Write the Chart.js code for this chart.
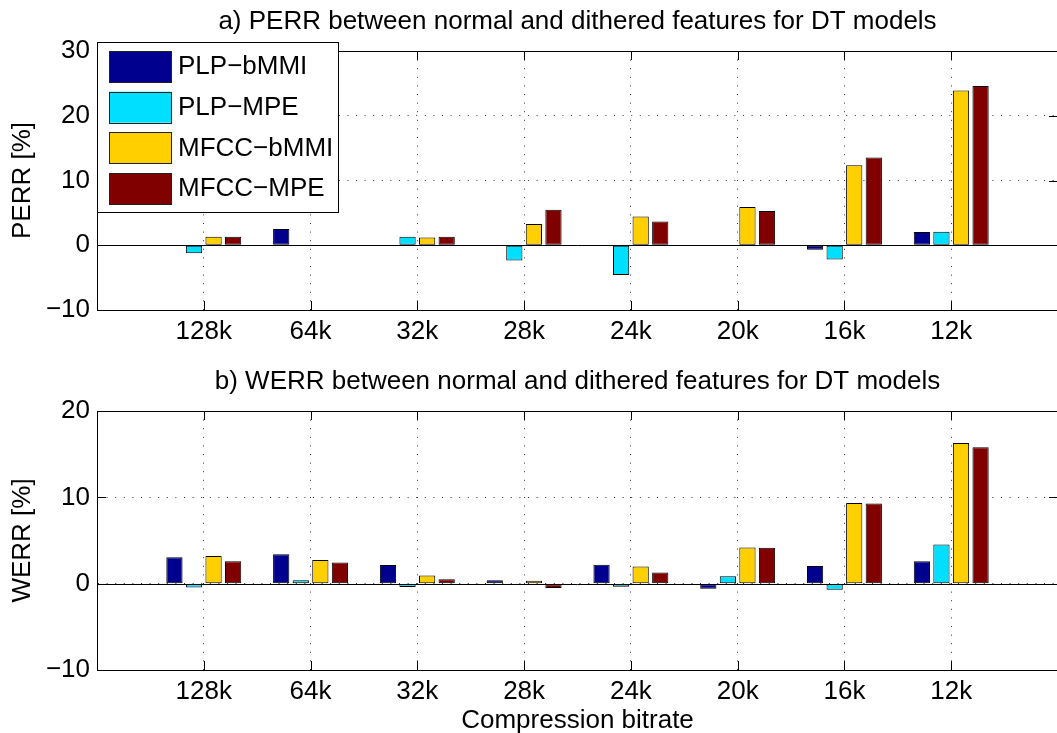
<!DOCTYPE html>
<html>
<head>
<meta charset="utf-8">
<title>PERR / WERR between normal and dithered features</title>
<script src="https://cdn.jsdelivr.net/npm/chart.js@4.4.0/dist/chart.umd.min.js"></script>
<style>
    html, body { margin: 0; padding: 0; background: #fff; overflow: hidden; }
    #wrap { position: relative; width: 1057px; height: 733px; overflow: hidden; }
    #wrap canvas { position: absolute; left: 0; }
    #perrChart { top: 0; }
    #werrChart { top: 365px; }
</style>
</head>
<body>
<div id="wrap">
    <canvas id="perrChart" width="1064" height="365"></canvas>
    <canvas id="werrChart" width="1064" height="380"></canvas>
</div>
<script>
// Data
const categories = ['128k', '64k', '32k', '28k', '24k', '20k', '16k', '12k'];
const seriesNames = ['PLP\u2212bMMI', 'PLP\u2212MPE', 'MFCC\u2212bMMI', 'MFCC\u2212MPE'];
const seriesColors = ['#00008F', '#00DFFF', '#FFCF00', '#800000'];

// a) PERR [%]
const perrPlpBmmi  = [0, 2.5, 0, 0, 0, 0, -0.7, 2.05];
const perrPlpMpe   = [-1.25, 0, 1.3, -2.35, -4.6, 0, -2.2, 2.1];
const perrMfccBmmi = [1.3, 0, 1.2, 3.3, 4.45, 5.9, 12.35, 23.9];
const perrMfccMpe  = [1.3, 0, 1.3, 5.5, 3.65, 5.3, 13.55, 24.6];
const perrTicks = [-10, 0, 10, 20, 30];

// b) WERR [%]
const werrPlpBmmi  = [3.05, 3.4, 2.15, 0.4, 2.2, -0.6, 2.05, 2.6];
const werrPlpMpe   = [-0.45, 0.4, -0.4, -0.05, -0.35, 0.85, -0.7, 4.55];
const werrMfccBmmi = [3.2, 2.75, 0.95, 0.35, 2.0, 4.2, 9.35, 16.3];
const werrMfccMpe  = [2.6, 2.45, 0.5, -0.5, 1.3, 4.15, 9.3, 15.8];
const werrTicks = [-10, 0, 10, 20];

const FONT = "'Liberation Sans', Arial, Helvetica, sans-serif";
const FONT_SIZE = 26;

// empty slot on each side of the categories (like xlim([0 9]) in matlab)
const xLabels = [''].concat(categories, ['']);
function pad(values) {
    return [null].concat(values, [null]);
}

function makeDatasets(seriesList) {
    return seriesList.map((values, i) => ({
        label: seriesNames[i],
        data: pad(values),
        backgroundColor: seriesColors[i],
        borderColor: '#000',
        borderWidth: 1,
        borderSkipped: false,
        categoryPercentage: 0.733,
        barPercentage: 0.83
    }));
}

function minusSign(v) {
    return String(v).replace('-', '\u2212');
}

// Box, zero baseline, inward ticks, title and legend in matlab style
const matlabAxes = {
    id: 'matlabAxes',
    beforeDatasetsDraw(chart) {
        const { ctx, chartArea } = chart;
        const y0 = Math.round(chart.scales.y.getPixelForValue(0)) + 0.5;
        ctx.save();
        ctx.strokeStyle = '#000';
        ctx.lineWidth = 1;
        ctx.beginPath();
        ctx.moveTo(chartArea.left, y0);
        ctx.lineTo(chartArea.right, y0);
        ctx.stroke();
        ctx.restore();
    },
    afterDraw(chart, args, opts) {
        const { ctx, chartArea } = chart;
        const { left, right, top, bottom } = chartArea;
        const xs = chart.scales.x;
        const ys = chart.scales.y;
        const tickLen = 9;

        ctx.save();
        ctx.strokeStyle = '#000';
        ctx.lineWidth = 1;

        // axes box
        ctx.strokeRect(Math.round(left) + 0.5, Math.round(top) + 0.5,
            Math.round(right - left), Math.round(bottom - top));

        // inward tick marks
        ctx.beginPath();
        xs.ticks.forEach((t, i) => {
            if (!xLabels[i]) return;
            const px = Math.round(xs.getPixelForTick(i)) + 0.5;
            ctx.moveTo(px, bottom);
            ctx.lineTo(px, bottom - tickLen);
            ctx.moveTo(px, top);
            ctx.lineTo(px, top + tickLen);
        });
        ys.ticks.forEach(t => {
            const py = Math.round(ys.getPixelForValue(t.value)) + 0.5;
            ctx.moveTo(left, py);
            ctx.lineTo(left + tickLen, py);
            ctx.moveTo(right, py);
            ctx.lineTo(right - tickLen, py);
        });
        ctx.stroke();

        // title, centred on the axes
        ctx.fillStyle = '#000';
        ctx.font = FONT_SIZE + 'px ' + FONT;
        ctx.textAlign = 'center';
        ctx.textBaseline = 'middle';
        ctx.fillText(opts.title, (left + right) / 2, top - 29);

        // legend
        if (opts.legend) {
            const bx = 97.5, by = 42.5, bw = 241, bh = 170;
            ctx.fillStyle = '#fff';
            ctx.fillRect(bx, by, bw, bh);
            ctx.strokeRect(bx, by, bw, bh);
            ctx.textAlign = 'left';
            chart.data.datasets.forEach((ds, i) => {
                const sy = 51 + i * 40.7;
                ctx.fillStyle = ds.backgroundColor;
                ctx.fillRect(109, sy, 62, 31);
                ctx.strokeStyle = '#222';
                ctx.strokeRect(109.5, Math.round(sy) + 0.5, 62, 31);
                ctx.fillStyle = '#000';
                ctx.fillText(ds.label, 178, sy + 16);
            });
        }
        ctx.restore();
    }
};

function makeChart(canvasId, opts) {
    const ctx = document.getElementById(canvasId).getContext('2d');
    return new Chart(ctx, {
        type: 'bar',
        data: {
            labels: xLabels,
            datasets: makeDatasets(opts.series)
        },
        options: {
            responsive: false,
            animation: false,
            devicePixelRatio: 1,
            layout: {
                padding: { top: opts.padTop, left: 0, right: 0, bottom: 0 }
            },
            plugins: {
                legend: { display: false },
                tooltip: { enabled: false },
                matlabAxes: { title: opts.title, legend: opts.legend }
            },
            scales: {
                x: {
                    type: 'category',
                    offset: false,
                    ticks: {
                        autoSkip: false,
                        maxRotation: 0,
                        color: '#000',
                        padding: 6,
                        font: { family: FONT, size: FONT_SIZE }
                    },
                    grid: { color: '#333', drawTicks: false, offset: false },
                    border: { color: '#000', width: 1, dash: [1, 7.6] },
                    title: {
                        display: !!opts.xTitle,
                        text: opts.xTitle || '',
                        color: '#000',
                        font: { family: FONT, size: FONT_SIZE },
                        padding: { top: 0, bottom: 9 }
                    },
                    afterFit: function(scale) {
                        scale.height = opts.xHeight;
                    }
                },
                y: {
                    min: opts.yTicks[0],
                    max: opts.yTicks[opts.yTicks.length - 1],
                    afterBuildTicks: function(scale) {
                        scale.ticks = opts.yTicks.map(v => ({ value: v }));
                    },
                    ticks: {
                        color: '#000',
                        padding: 7,
                        font: { family: FONT, size: FONT_SIZE },
                        callback: v => minusSign(v)
                    },
                    grid: { color: '#333', drawTicks: false },
                    border: { color: '#000', width: 1, dash: [1, 7.6] },
                    title: {
                        display: true,
                        text: opts.yTitle,
                        color: '#000',
                        font: { family: FONT, size: FONT_SIZE },
                        padding: { top: 7, bottom: 0 }
                    },
                    afterFit: function(scale) {
                        scale.width = 97;
                    }
                }
            }
        },
        plugins: [matlabAxes]
    });
}

document.addEventListener('DOMContentLoaded', function() {
    makeChart('perrChart', {
        series: [perrPlpBmmi, perrPlpMpe, perrMfccBmmi, perrMfccMpe],
        yTicks: perrTicks,
        yTitle: 'PERR [%]',
        title: 'a) PERR between normal and dithered features for DT models',
        legend: true,
        padTop: 51,
        xHeight: 55
    });

    makeChart('werrChart', {
        series: [werrPlpBmmi, werrPlpMpe, werrMfccBmmi, werrMfccMpe],
        yTicks: werrTicks,
        yTitle: 'WERR [%]',
        xTitle: 'Compression bitrate',
        title: 'b) WERR between normal and dithered features for DT models',
        legend: false,
        padTop: 46,
        xHeight: 75
    });
});
</script>
</body>
</html>
